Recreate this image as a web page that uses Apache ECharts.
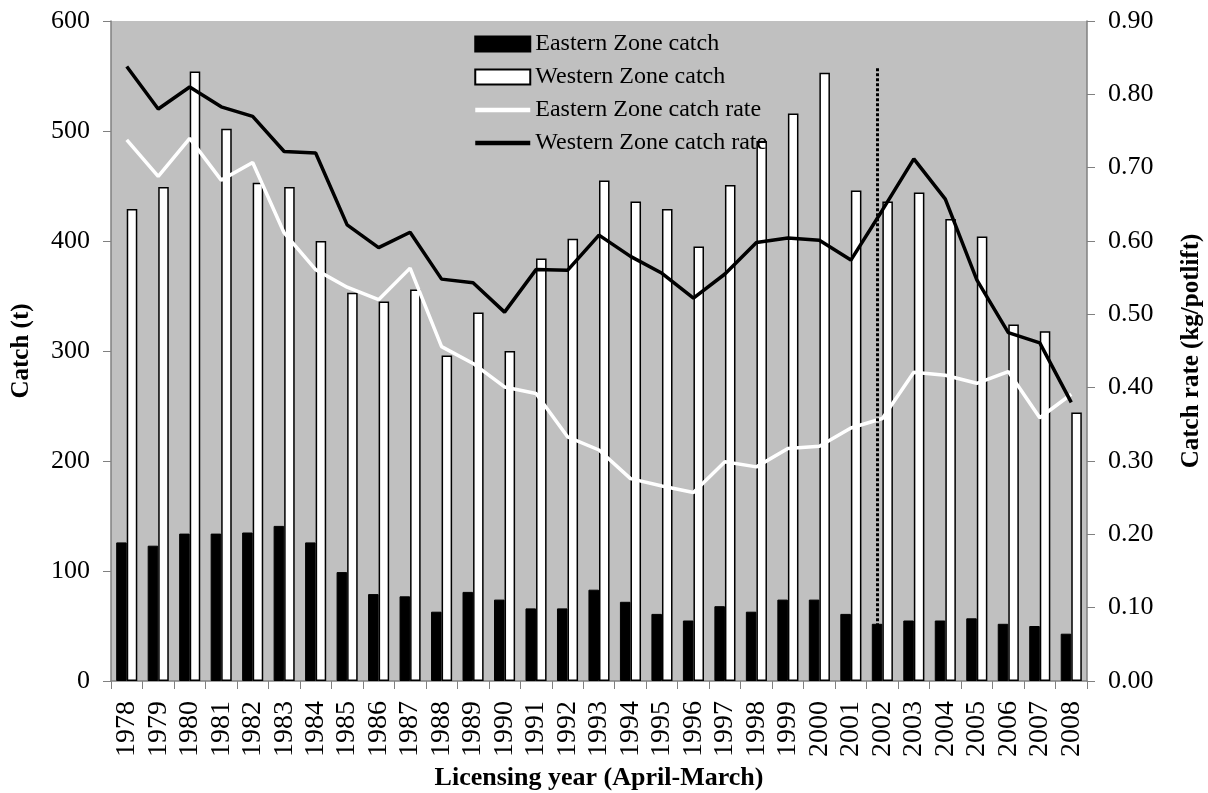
<!DOCTYPE html>
<html>
<head>
<meta charset="utf-8">
<script src="https://cdn.jsdelivr.net/npm/echarts@6/dist/echarts.min.js"></script>
<style>
html,body{margin:0;padding:0;background:#fff;}
#chart{width:1208px;height:793px;}
</style>
</head>
<body>
<div id="chart"></div>
<script>
var years = ['1978','1979','1980','1981','1982','1983','1984','1985','1986','1987','1988','1989','1990','1991','1992','1993','1994','1995','1996','1997','1998','1999','2000','2001','2002','2003','2004','2005','2006','2007','2008'];
var eastCatch = [126,123,134,134,135,141,126,99,79,77,63,81,74,66,66,83,72,61,55,68,63,74,74,61,52,55,55,57,52,50,43];
var westCatch = [429,449,554,502,453,449,400,353,345,356,296,335,300,384,402,455,436,429,395,451,491,516,553,446,436,444,420,404,324,318,244];
var eastRate = [0.738,0.688,0.740,0.683,0.707,0.611,0.561,0.537,0.520,0.563,0.456,0.433,0.401,0.392,0.333,0.315,0.276,0.266,0.257,0.299,0.292,0.317,0.320,0.345,0.358,0.421,0.417,0.406,0.422,0.359,0.391];
var westRate = [0.838,0.780,0.810,0.783,0.770,0.722,0.720,0.622,0.591,0.612,0.548,0.543,0.503,0.561,0.560,0.608,0.579,0.556,0.522,0.555,0.598,0.604,0.601,0.574,0.642,0.712,0.657,0.547,0.475,0.461,0.380];
var markerYear = '2002';
var markerTop = 557;

var FONT = 'Liberation Serif';
var hideSym = {color: 'rgba(0,0,0,0)', borderWidth: 0, borderColor: 'rgba(0,0,0,0)'};
var chart = echarts.init(document.getElementById('chart'));
chart.setOption({
  animation: false,
  backgroundColor: '#fff',
  textStyle: {fontFamily: FONT, color: '#000'},
  grid: {left: 111, right: 121, top: 21, bottom: 112, show: true, backgroundColor: '#c0c0c0', borderWidth: 0, outerBoundsMode: 'none', containLabel: false},
  legend: {
    orient: 'vertical', left: 468, top: 27, itemWidth: 55, itemHeight: 15, itemGap: 9, itemTextGap: 6,
    textStyle: {fontFamily: FONT, fontSize: 24, color: '#000'},
    data: [
      {name: 'Eastern Zone catch', icon: 'rect'},
      {name: 'Western Zone catch', icon: 'rect'},
      {name: 'Eastern Zone catch rate', itemStyle: hideSym, lineStyle: {width: 4.5, color: '#fff'}},
      {name: 'Western Zone catch rate', itemStyle: hideSym, lineStyle: {width: 4.5, color: '#000'}}
    ]
  },
  xAxis: {
    type: 'category', data: years,
    name: 'Licensing year (April-March)', nameLocation: 'middle', nameGap: 82,
    nameTextStyle: {fontFamily: FONT, fontSize: 26, fontWeight: 'bold', color: '#000'},
    axisLine: {lineStyle: {color: '#808080', width: 1.5}},
    axisTick: {show: true, length: 8, lineStyle: {color: '#808080'}},
    axisLabel: {rotate: 90, margin: 20, fontSize: 28, color: '#000', fontFamily: FONT, interval: 0}
  },
  yAxis: [{
    type: 'value', min: 0, max: 600, interval: 100, position: 'left',
    name: 'Catch (t)', nameLocation: 'middle', nameGap: 77, nameRotate: 90,
    nameTextStyle: {fontFamily: FONT, fontSize: 25, fontWeight: 'bold', color: '#000'},
    axisLine: {show: true, lineStyle: {color: '#808080', width: 1.5}},
    axisTick: {show: true, length: 8, lineStyle: {color: '#808080'}},
    splitLine: {show: false},
    axisLabel: {margin: 21, fontSize: 26, color: '#000', fontFamily: FONT}
  }, {
    type: 'value', min: 0, max: 0.9, interval: 0.1, position: 'right',
    name: 'Catch rate (kg/potlift)', nameLocation: 'middle', nameGap: 92, nameRotate: 90,
    nameTextStyle: {fontFamily: FONT, fontSize: 25, fontWeight: 'bold', color: '#000'},
    axisLine: {show: true, lineStyle: {color: '#808080', width: 1.5}},
    axisTick: {show: true, length: 8, lineStyle: {color: '#808080'}},
    splitLine: {show: false},
    axisLabel: {margin: 21, fontSize: 26, color: '#000', fontFamily: FONT, formatter: function(v){return v.toFixed(2);}}
  }],
  series: [{
    name: 'Eastern Zone catch', type: 'bar', data: eastCatch, yAxisIndex: 0,
    barGap: '0%', barCategoryGap: '33%',
    itemStyle: {color: '#000', borderColor: '#000', borderWidth: 1},
    markLine: {
      silent: true, symbol: ['none', 'none'], label: {show: false},
      lineStyle: {type: [3, 2], color: '#000', width: 3},
      data: [[{coord: [markerYear, markerTop]}, {coord: [markerYear, 0]}]]
    },
    z: 2
  }, {
    name: 'Western Zone catch', type: 'bar', data: westCatch, yAxisIndex: 0,
    itemStyle: {color: '#fff', borderColor: '#000', borderWidth: 1.5},
    z: 2
  }, {
    name: 'Eastern Zone catch rate', type: 'line', data: eastRate, yAxisIndex: 1,
    symbol: 'none', lineStyle: {color: '#fff', width: 3.5}, itemStyle: {color: '#fff'}, z: 4
  }, {
    name: 'Western Zone catch rate', type: 'line', data: westRate, yAxisIndex: 1,
    symbol: 'none', lineStyle: {color: '#000', width: 3.5}, itemStyle: {color: '#000'}, z: 5
  }]
});
</script>
</body>
</html>
